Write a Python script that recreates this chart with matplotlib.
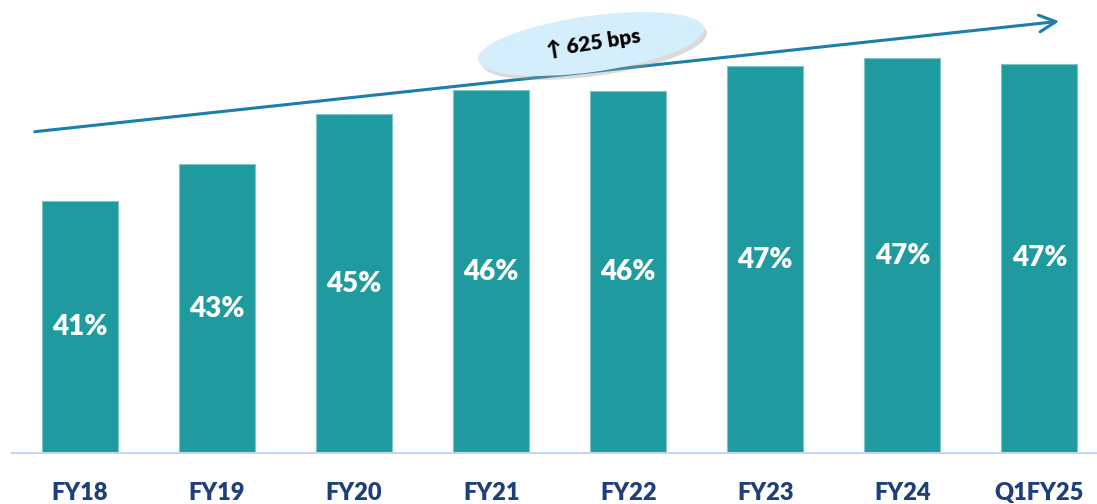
import matplotlib.pyplot as plt
from matplotlib.patches import Ellipse
from matplotlib.transforms import IdentityTransform

# margin values (%)
years = ['FY18', 'FY19', 'FY20', 'FY21', 'FY22', 'FY23', 'FY24', 'Q1FY25']
margin = [41.0, 42.6, 44.8, 45.85, 45.8, 46.9, 47.25, 47.0]
labels = ['41%', '43%', '45%', '46%', '46%', '47%', '47%', '47%']
note = '\u2191 625 bps'

bar_color = '#1F9B9F'
tick_color = '#1F3F7A'
arrow_color = '#1A7FAA'

plt.rcParams['font.family'] = ['Lato', 'DejaVu Sans']

fig = plt.figure(figsize=(10.97, 5.04), dpi=100)
ax = fig.add_axes([0.011, 0.101, 0.989, 0.899])

x = range(len(years))
bars = ax.bar(x, margin, width=0.555, color=bar_color,
              edgecolor='#7CC4C7', linewidth=0.8, zorder=2)
ax.set_ylim(30, 49.78)
ax.set_xlim(-0.496, 7.42)

for xi, v, lab in zip(x, margin, labels):
    ax.text(xi, (30 + v) / 2, lab, ha='center', va='center',
            color='white', fontsize=20, fontweight='heavy', zorder=3)

ax.set_xticks(list(x))
ax.set_xticklabels(years, fontsize=17, fontweight='heavy', color=tick_color)
ax.tick_params(axis='x', length=0, pad=21)
ax.set_yticks([])
for s in ['top', 'right', 'left']:
    ax.spines[s].set_visible(False)
ax.spines['bottom'].set_color('#C5D6F2')
ax.spines['bottom'].set_linewidth(1.5)

# trend arrow (figure pixels)
ax.annotate('', xy=(1062, 483), xytext=(32, 372), xycoords='figure pixels',
            textcoords='figure pixels',
            arrowprops=dict(arrowstyle='->,head_length=1.2,head_width=0.6',
                            color=arrow_color, lw=2.2))

# callout bubble
shadow = Ellipse((594, 504 - 48), 228, 56, angle=8, transform=IdentityTransform(),
                 facecolor='#9A9A9A', alpha=0.35, edgecolor='none', zorder=4)
bubble = Ellipse((591, 504 - 44), 228, 56, angle=8, transform=IdentityTransform(),
                 facecolor='#D4EEFB', edgecolor='none', zorder=5)
fig.patches.extend([shadow, bubble])
fig.text(593, 504 - 43, note, transform=IdentityTransform(), ha='center', va='center',
         rotation=9, fontsize=15, fontweight='heavy', color='black', zorder=6)

fig.savefig('out.png', dpi=100)
